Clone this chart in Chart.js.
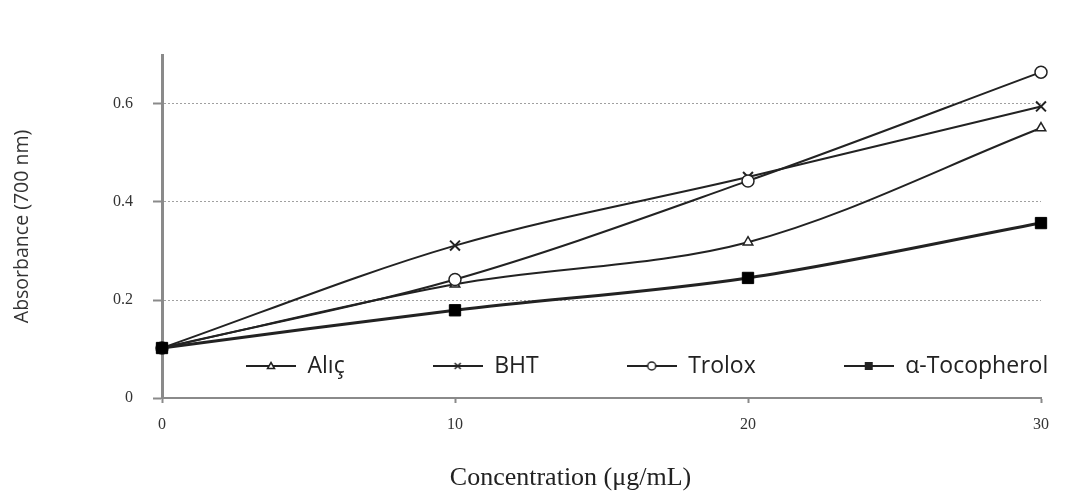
<!DOCTYPE html>
<html>
<head>
<meta charset="utf-8">
<script src="https://cdn.jsdelivr.net/npm/chart.js@4/dist/chart.umd.min.js"></script>
<style>
  html, body { margin: 0; padding: 0; background: #ffffff; }
  #wrap { width: 1091px; height: 491px; }
  canvas { display: block; }
</style>
</head>
<body>
<div id="wrap"><canvas id="c" width="1091" height="491"></canvas></div>
<script>
// ---- data ----
const concentrations = [0, 10, 20, 30];
const seriesNames = ['Alıç', 'BHT', 'Trolox', 'α-Tocopherol'];
const alicValues = [0.102, 0.232, 0.318, 0.551];
const bhtValues = [0.102, 0.311, 0.451, 0.595];
const troloxValues = [0.102, 0.242, 0.443, 0.665];
const tocopherolValues = [0.102, 0.179, 0.245, 0.357];
const xTickValues = [0, 10, 20, 30];
const yTickValues = [0, 0.2, 0.4, 0.6];
const xTitle = 'Concentration (μg/mL)';
const yTitle = 'Absorbance (700 nm)';

const INK = '#222222';
const AXIS = '#8a8a8a';

function toPoints(values) {
  return concentrations.map((c, i) => ({ x: c, y: values[i] }));
}

// legend swatches: short line with a marker, like the reference
function makeSwatch(kind) {
  const cv = document.createElement('canvas');
  cv.width = 50; cv.height = 16;
  const g = cv.getContext('2d');
  g.strokeStyle = INK; g.lineWidth = 2;
  g.beginPath(); g.moveTo(0, 8); g.lineTo(50, 8); g.stroke();
  g.lineWidth = 1.5;
  if (kind === 'triangle') {
    g.fillStyle = '#fff';
    g.beginPath(); g.moveTo(25, 4.5); g.lineTo(28.5, 10.5); g.lineTo(21.5, 10.5); g.closePath(); g.fill(); g.stroke();
  } else if (kind === 'cross') {
    g.beginPath(); g.moveTo(22, 5); g.lineTo(28, 11); g.moveTo(28, 5); g.lineTo(22, 11); g.stroke();
  } else if (kind === 'circle') {
    g.fillStyle = '#fff';
    g.beginPath(); g.arc(25, 8, 4, 0, Math.PI * 2); g.fill(); g.stroke();
  } else if (kind === 'square') {
    g.fillStyle = INK;
    g.fillRect(21, 4, 8, 8);
  }
  return cv;
}
const swatches = [makeSwatch('triangle'), makeSwatch('cross'), makeSwatch('circle'), makeSwatch('square')];

const LEG_FONT = 23;
const LEG_PAD = 88;
const LEG_X = 246;
const LEG_Y = 366;

const legendMover = {
  id: 'legendMover',
  afterLayout(chart) {
    const lg = chart.legend;
    if (!lg) return;
    lg.left = LEG_X - LEG_PAD;
    lg.right = 5000;
    lg.width = lg.right - lg.left;
    lg.top = LEG_Y - LEG_PAD - LEG_FONT / 2;
    lg.bottom = lg.top + 2 * LEG_PAD + 40;
    lg.height = lg.bottom - lg.top;
  }
};

const common = { tension: 0.33, borderColor: INK, clip: false, fill: false };
const SERIF = "'Liberation Serif', 'Times New Roman', serif";

new Chart(document.getElementById('c'), {
  type: 'line',
  data: {
    datasets: [
      Object.assign({}, common, {
        label: seriesNames[0], data: toPoints(alicValues), borderWidth: 2, order: 3,
        pointStyle: 'triangle', pointRadius: 5.5, pointBorderWidth: 1.5,
        pointBackgroundColor: '#ffffff', pointBorderColor: INK
      }),
      Object.assign({}, common, {
        label: seriesNames[1], data: toPoints(bhtValues), borderWidth: 2, order: 2,
        pointStyle: 'crossRot', pointRadius: 7, pointBorderWidth: 2,
        pointBackgroundColor: INK, pointBorderColor: INK
      }),
      Object.assign({}, common, {
        label: seriesNames[2], data: toPoints(troloxValues), borderWidth: 2, order: 1,
        pointStyle: 'circle', pointRadius: 6, pointBorderWidth: 1.5,
        pointBackgroundColor: '#ffffff', pointBorderColor: INK
      }),
      Object.assign({}, common, {
        label: seriesNames[3], data: toPoints(tocopherolValues), borderWidth: 3, order: 0,
        pointStyle: 'rect', pointRadius: 8, pointBorderWidth: 1,
        pointBackgroundColor: '#000000', pointBorderColor: '#000000'
      })
    ]
  },
  options: {
    responsive: false,
    animation: false,
    layout: { padding: { left: 100, right: 50, top: 54, bottom: 0 } },
    plugins: {
      tooltip: { enabled: false },
      legend: {
        display: true,
        position: 'top',
        align: 'start',
        maxHeight: 1,
        labels: {
          usePointStyle: true,
          pointStyleWidth: 50,
          padding: LEG_PAD,
          color: INK,
          font: { family: "'Open Sans', sans-serif", size: LEG_FONT },
          generateLabels(chart) {
            const items = Chart.defaults.plugins.legend.labels.generateLabels(chart);
            items.sort((a, b) => a.datasetIndex - b.datasetIndex);
            items.forEach((it) => { it.pointStyle = swatches[it.datasetIndex]; });
            return items;
          }
        }
      },
      title: {
        display: true,
        position: 'bottom',
        text: xTitle,
        color: INK,
        font: { family: SERIF, size: 26, weight: 'normal', lineHeight: 1.0 },
        padding: { top: 10, bottom: 0 }
      }
    },
    scales: {
      x: {
        type: 'linear',
        min: xTickValues[0],
        max: xTickValues[xTickValues.length - 1],
        afterBuildTicks(scale) { scale.ticks = xTickValues.map(v => ({ value: v })); },
        afterFit(scale) { scale.height = 57; },
        border: { display: true, color: AXIS, width: 2 },
        grid: {
          drawOnChartArea: false, drawTicks: true, tickLength: 5,
          tickColor: AXIS, tickWidth: 2
        },
        ticks: {
          padding: 12,
          color: '#333333',
          font: { family: SERIF, size: 16 },
          maxRotation: 0
        }
      },
      y: {
        type: 'linear',
        min: 0,
        max: 0.7,
        afterBuildTicks(scale) { scale.ticks = yTickValues.map(v => ({ value: v })); },
        afterFit(scale) { scale.width = 62; },
        border: { display: true, color: AXIS, width: 3, dash: [2, 2] },
        grid: {
          drawOnChartArea: true, color: '#a0a0a0', lineWidth: 1,
          drawTicks: true, tickLength: 9, tickColor: AXIS, tickWidth: 2, tickBorderDash: []
        },
        ticks: {
          padding: 20,
          color: '#333333',
          font: { family: SERIF, size: 16 },
          callback: (v) => (v === 0 ? '0' : String(Math.round(v * 10) / 10))
        },
        title: {
          display: true,
          text: yTitle,
          color: '#333333',
          font: { family: "'Open Sans', sans-serif", size: 19.5 },
          padding: { top: -89.7, bottom: 0 }
        }
      }
    }
  },
  plugins: [legendMover]
});
</script>
</body>
</html>
